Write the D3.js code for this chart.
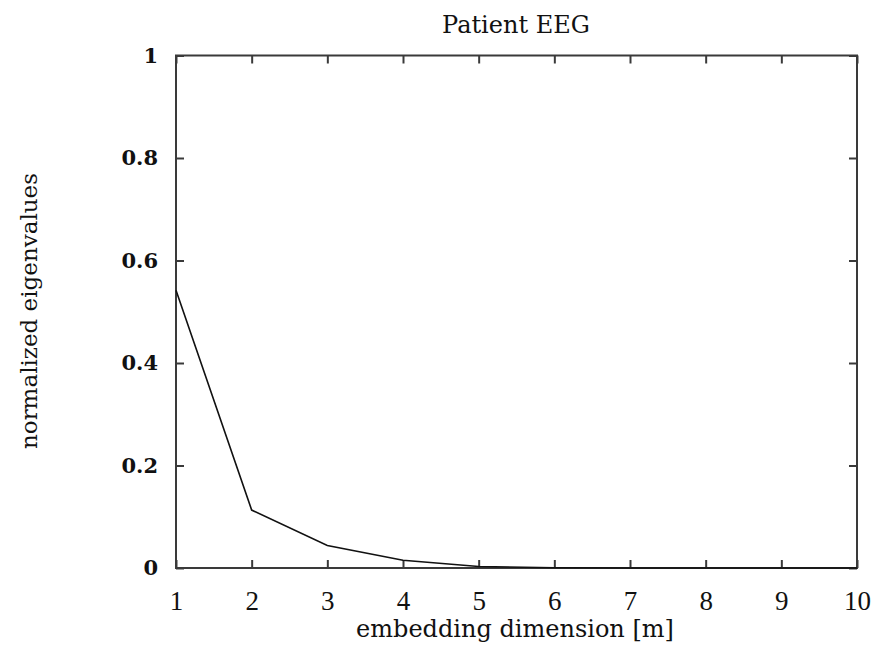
<!DOCTYPE html>
<html><head><meta charset="utf-8">
<script src="https://cdn.jsdelivr.net/npm/d3@7"></script>
<style>body{margin:0;background:#fff;} svg{display:block;}</style>
</head><body>
<svg id="chart" width="878" height="652"></svg>
<script>
const dims = [1, 2, 3, 4, 5, 6, 7, 8, 9, 10];
const eigenvalues = [0.542, 0.113, 0.044, 0.015, 0.003, 0.0005, 0, 0, 0, 0];
const xTicks = [1, 2, 3, 4, 5, 6, 7, 8, 9, 10];
const yTicks = [0, 0.2, 0.4, 0.6, 0.8, 1];
const yTickLabels = ["0", "0.2", "0.4", "0.6", "0.8", "1"];
const title = "Patient EEG";
const xLabel = "embedding dimension [m]";
const yLabel = "normalized eigenvalues";

const svg = d3.select("#chart");
const m = {left: 176, right: 857, top: 55.5, bottom: 568};
const x = d3.scaleLinear().domain([1, 10]).range([m.left, m.right]);
const y = d3.scaleLinear().domain([0, 1]).range([m.bottom, m.top]);
const axisColor = "#3a3a3a";
const font = "DejaVu Serif";

// frame
svg.append("rect").attr("x", m.left).attr("y", m.top)
  .attr("width", m.right - m.left).attr("height", m.bottom - m.top)
  .attr("fill", "none").attr("stroke", axisColor).attr("stroke-width", 2);

const tickLen = 8;
const styleAxis = g => { g.select(".domain").remove(); g.selectAll("line").attr("stroke", axisColor).attr("stroke-width", 2); };
svg.append("g").attr("transform", `translate(0,${m.bottom})`)
  .call(d3.axisBottom(x).tickValues(xTicks).tickSizeInner(-tickLen).tickSizeOuter(0).tickFormat(d3.format("d")))
  .call(styleAxis)
  .call(g => g.selectAll("text").attr("y", 42).attr("dy", 0)
    .attr("font-family", "Liberation Serif").attr("font-size", 27).attr("fill", "#111"));
svg.append("g").attr("transform", `translate(0,${m.top})`)
  .call(d3.axisTop(x).tickValues(xTicks).tickSizeInner(-tickLen).tickSizeOuter(0).tickFormat(""))
  .call(styleAxis);
svg.append("g").attr("transform", `translate(${m.left},0)`)
  .call(d3.axisLeft(y).tickValues(yTicks).tickSizeInner(-tickLen).tickSizeOuter(0).tickPadding(18)
    .tickFormat((d, i) => yTickLabels[i]))
  .call(styleAxis)
  .call(g => g.selectAll("text").attr("font-family", font).attr("font-size", 21).attr("font-weight", "bold").attr("fill", "#111"));
svg.append("g").attr("transform", `translate(${m.right},0)`)
  .call(d3.axisRight(y).tickValues(yTicks).tickSizeInner(-tickLen).tickSizeOuter(0).tickFormat(""))
  .call(styleAxis);

// line
svg.append("path").datum(dims.map((d, i) => [d, eigenvalues[i]]))
  .attr("d", d3.line().x(d => x(d[0])).y(d => y(d[1])))
  .attr("fill", "none").attr("stroke", "#111").attr("stroke-width", 1.6);

// title and labels
svg.append("text").attr("x", 516).attr("y", 33).attr("text-anchor", "middle")
  .attr("font-family", font).attr("font-size", 24).attr("fill", "#111").text(title);
svg.append("text").attr("x", 515).attr("y", 637).attr("text-anchor", "middle")
  .attr("font-family", font).attr("font-size", 24).attr("fill", "#111").text(xLabel);
svg.append("text").attr("transform", "translate(37,311) rotate(-90)").attr("text-anchor", "middle")
  .attr("font-family", font).attr("font-size", 23).attr("fill", "#111").text(yLabel);
</script>
</body></html>
